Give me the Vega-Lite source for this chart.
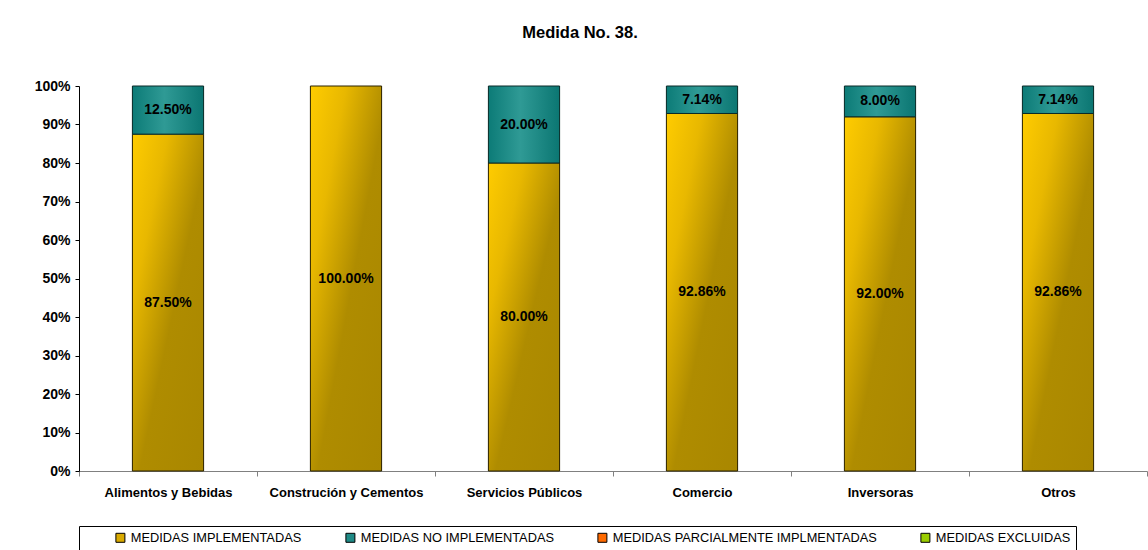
{
  "$schema": "https://vega.github.io/schema/vega-lite/v6.json",
  "width": 1068,
  "height": 385,
  "padding": {"left": 34, "top": 24, "right": 0, "bottom": 0},
  "background": "white",
  "config": {
    "view": {"stroke": null},
    "font": "Liberation Sans",
    "axisY": {
      "title": null,
      "values": [0, 0.1, 0.2, 0.3, 0.4, 0.5, 0.6, 0.7, 0.8, 0.9, 1.0],
      "tickCount": 11,
      "format": ".0%",
      "labelOverlap": false,
      "labelFontWeight": "bold",
      "labelFontSize": 14,
      "labelColor": "black",
      "labelFont": "Liberation Sans",
      "labelPadding": 5,
      "domainColor": "black",
      "tickColor": "black",
      "tickSize": 4,
      "grid": false
    }
  },
  "title": {
    "text": "Medida No. 38.",
    "fontSize": 16.5,
    "fontWeight": "bold",
    "font": "Liberation Sans",
    "color": "black",
    "anchor": "middle",
    "offset": 38,
    "dx": -33
  },
  "data": {
    "values": [
      {"cat": "Alimentos y Bebidas", "serie": "MEDIDAS IMPLEMENTADAS", "valor": 0.875},
      {"cat": "Alimentos y Bebidas", "serie": "MEDIDAS NO IMPLEMENTADAS", "valor": 0.125},
      {"cat": "Construción y Cementos", "serie": "MEDIDAS IMPLEMENTADAS", "valor": 1.0},
      {"cat": "Servicios Públicos", "serie": "MEDIDAS IMPLEMENTADAS", "valor": 0.8},
      {"cat": "Servicios Públicos", "serie": "MEDIDAS NO IMPLEMENTADAS", "valor": 0.2},
      {"cat": "Comercio", "serie": "MEDIDAS IMPLEMENTADAS", "valor": 0.9286},
      {"cat": "Comercio", "serie": "MEDIDAS NO IMPLEMENTADAS", "valor": 0.0714},
      {"cat": "Inversoras", "serie": "MEDIDAS IMPLEMENTADAS", "valor": 0.92},
      {"cat": "Inversoras", "serie": "MEDIDAS NO IMPLEMENTADAS", "valor": 0.08},
      {"cat": "Otros", "serie": "MEDIDAS IMPLEMENTADAS", "valor": 0.9286},
      {"cat": "Otros", "serie": "MEDIDAS NO IMPLEMENTADAS", "valor": 0.0714}
    ]
  },
  "transform": [
    {"stack": "valor", "groupby": ["cat"], "sort": [{"field": "serie", "order": "ascending"}], "as": ["y0", "y1"]}
  ],
  "encoding": {
    "x": {
      "field": "cat",
      "type": "nominal",
      "sort": ["Alimentos y Bebidas", "Construción y Cementos", "Servicios Públicos", "Comercio", "Inversoras", "Otros"],
      "scale": {"paddingInner": 0, "paddingOuter": 0},
      "axis": {
        "title": null,
        "labelAngle": 0,
        "labelFontWeight": "bold",
        "labelFontSize": 13,
        "labelColor": "black",
        "labelFont": "Liberation Sans",
        "labelPadding": 10,
        "tickBand": "extent",
        "domainColor": "#808080",
        "tickColor": "#808080",
        "tickSize": 5
      }
    }
  },
  "layer": [
    {
      "mark": {"type": "bar", "width": {"band": 0.4}},
      "encoding": {
        "y": {
          "field": "y0",
          "type": "quantitative",
          "scale": {"domain": [0, 1], "nice": false},
          "axis": {"title": null, "values": [0, 0.1, 0.2, 0.3, 0.4, 0.5, 0.6, 0.7, 0.8, 0.9, 1.0], "format": ".0%", "labelOverlap": false}
        },
        "y2": {"field": "y1"},
        "color": {
          "field": "serie",
          "type": "nominal",
          "scale": {
            "domain": ["MEDIDAS IMPLEMENTADAS", "MEDIDAS NO IMPLEMENTADAS", "MEDIDAS PARCIALMENTE IMPLMENTADAS", "MEDIDAS EXCLUIDAS"],
            "range": ["#D9AA00", "#1F8A86", "#FF6A00", "#9ACD00"]
          },
          "legend": {
            "title": null,
            "orient": "bottom",
            "direction": "horizontal",
            "strokeColor": "black",
            "padding": 5,
            "offset": 27,
            "symbolType": "square",
            "symbolSize": 81,
            "symbolStrokeColor": "black",
            "symbolStrokeWidth": 1,
            "labelFontSize": 12.8,
            "labelFont": "Liberation Sans",
            "labelColor": "black",
            "labelLimit": 400,
            "labelOffset": 4,
            "columnPadding": 12,
            "symbolOffset": 30
          }
        }
      }
    },
    {
      "transform": [{"filter": "datum.serie === 'MEDIDAS IMPLEMENTADAS'"}],
      "mark": {
        "type": "bar",
        "width": {"band": 0.4},
        "stroke": "#2a2200",
        "strokeWidth": 1,
        "fill": {
          "gradient": "linear",
          "x1": 0, "y1": 0, "x2": 1, "y2": 1,
          "stops": [
            {"offset": 0, "color": "#FFCC00"},
            {"offset": 0.25, "color": "#E8B800"},
            {"offset": 0.55, "color": "#AF8C00"},
            {"offset": 1, "color": "#A98700"}
          ]
        }
      },
      "encoding": {
        "y": {"field": "y0", "type": "quantitative", "axis": {"title": null, "values": [0, 0.1, 0.2, 0.3, 0.4, 0.5, 0.6, 0.7, 0.8, 0.9, 1.0], "format": ".0%", "labelOverlap": false}},
        "y2": {"field": "y1"}
      }
    },
    {
      "transform": [{"filter": "datum.serie === 'MEDIDAS NO IMPLEMENTADAS'"}],
      "mark": {
        "type": "bar",
        "width": {"band": 0.4},
        "stroke": "#0a2a28",
        "strokeWidth": 1,
        "fill": {
          "gradient": "linear",
          "x1": 0, "y1": 0, "x2": 1, "y2": 0,
          "stops": [
            {"offset": 0, "color": "#0C7B77"},
            {"offset": 0.45, "color": "#2F9A95"},
            {"offset": 1, "color": "#0B7672"}
          ]
        }
      },
      "encoding": {
        "y": {"field": "y0", "type": "quantitative", "axis": {"title": null, "values": [0, 0.1, 0.2, 0.3, 0.4, 0.5, 0.6, 0.7, 0.8, 0.9, 1.0], "format": ".0%", "labelOverlap": false}},
        "y2": {"field": "y1"}
      }
    },
    {
      "transform": [
        {"fold": ["y0", "y1"], "as": ["k", "v"]},
        {"aggregate": [{"op": "mean", "field": "v", "as": "mid"}], "groupby": ["cat", "serie", "valor"]}
      ],
      "mark": {"type": "text", "fontSize": 14, "fontWeight": "bold", "font": "Liberation Sans", "color": "black", "baseline": "middle", "align": "center"},
      "encoding": {
        "y": {"field": "mid", "type": "quantitative", "axis": {"title": null, "values": [0, 0.1, 0.2, 0.3, 0.4, 0.5, 0.6, 0.7, 0.8, 0.9, 1.0], "format": ".0%", "labelOverlap": false}},
        "text": {"field": "valor", "type": "quantitative", "format": ".2%"}
      }
    }
  ]
}
